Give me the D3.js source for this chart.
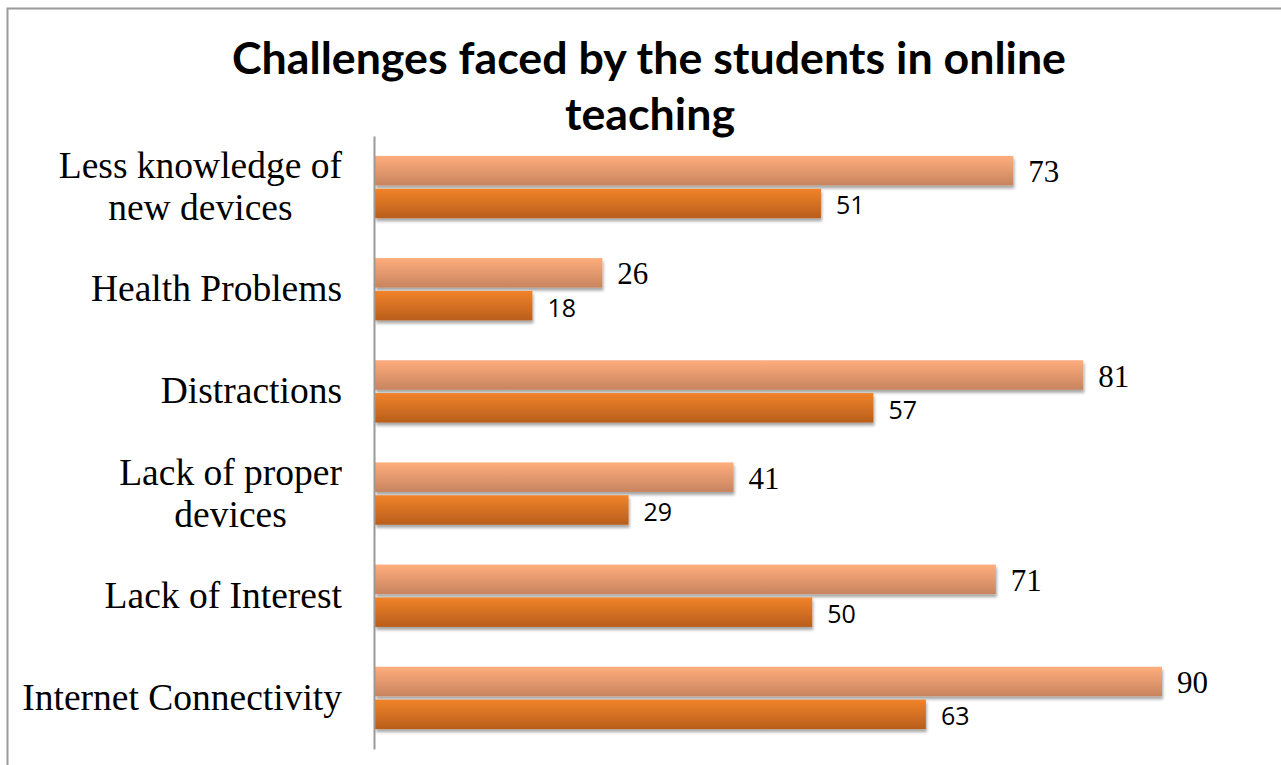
<!DOCTYPE html>
<html>
<head>
<meta charset="utf-8">
<script src="https://cdn.jsdelivr.net/npm/d3@7"></script>
<style>
  html, body { margin: 0; padding: 0; background: #fff; }
  svg { display: block; }
</style>
</head>
<body>
<svg id="chart" width="1281" height="765"></svg>
<script>
"use strict";

// Data
const CATEGORIES = [
  ["Less knowledge of", "new devices"],
  ["Health Problems"],
  ["Distractions"],
  ["Lack of proper", "devices"],
  ["Lack of Interest"],
  ["Internet Connectivity"]
];
const SERIES_A = [73, 26, 81, 41, 71, 90]; // light bars
const SERIES_B = [51, 18, 57, 29, 50, 63]; // dark bars
const TITLE_LINES = ["Challenges faced by the students in online", "teaching"];

// Dimensions
const W = 1281;
const H = 765;
const PLOT_LEFT = 375;
const PLOT_TOP = 136;
const PLOT_BOTTOM = 749;
const X_END = 1162; // where 90 lands

const svg = d3.select("#chart");
const defs = svg.append("defs");

// Gradients
function gradient(id, top, bottom) {
  const g = defs.append("linearGradient")
    .attr("id", id)
    .attr("x1", 0).attr("y1", 0).attr("x2", 0).attr("y2", 1);
  g.append("stop").attr("offset", "0%").attr("stop-color", top);
  g.append("stop").attr("offset", "100%").attr("stop-color", bottom);
}
gradient("grad-a", "#ffad7c", "#c7845f");
gradient("grad-b", "#f1832a", "#b85e1c");

// Shadow
const shadow = defs.append("filter").attr("id", "shadow")
  .attr("x", "-5%").attr("y", "-20%").attr("width", "110%").attr("height", "160%");
shadow.append("feDropShadow")
  .attr("dx", 1).attr("dy", 3).attr("stdDeviation", 1.8)
  .attr("flood-color", "#000").attr("flood-opacity", 0.35);

// Frame lines (top and left)
svg.append("path")
  .attr("d", "M7.5," + H + "V8.5H" + W)
  .attr("fill", "none")
  .attr("stroke", "#9a9a9a")
  .attr("stroke-width", 2);

// Scales
const idx = d3.range(CATEGORIES.length);
const x = d3.scaleLinear().domain([0, 90]).range([PLOT_LEFT, X_END]);
const y = d3.scaleBand().domain(idx)
  .range([PLOT_TOP, PLOT_BOTTOM])
  .paddingInner(0.39).paddingOuter(0.195);
const ySub = d3.scaleBand().domain([0, 1])
  .range([0, y.bandwidth()])
  .paddingInner(0.1);

// Bars
const groups = svg.append("g").selectAll("g")
  .data(idx)
  .join("g")
  .attr("transform", i => "translate(0," + y(i) + ")");

const seriesList = [
  { values: SERIES_A, fill: "url(#grad-a)" },
  { values: SERIES_B, fill: "url(#grad-b)" }
];

seriesList.forEach(function(s, k) {
  groups.append("rect")
    .attr("x", x(0))
    .attr("y", ySub(k))
    .attr("width", i => x(s.values[i]) - x(0))
    .attr("height", ySub.bandwidth())
    .attr("fill", s.fill)
    .attr("filter", "url(#shadow)");
});

// Value labels
groups.append("text")
  .attr("x", i => x(SERIES_A[i]) + 15)
  .attr("y", ySub(0) + ySub.bandwidth() / 2 + 11.5)
  .attr("font-family", "'Liberation Serif', 'Times New Roman', serif")
  .attr("font-size", 31)
  .attr("fill", "#000")
  .text(i => SERIES_A[i]);

groups.append("text")
  .attr("x", i => x(SERIES_B[i]) + 15)
  .attr("y", ySub(1) + ySub.bandwidth() / 2 + 11)
  .attr("font-family", "'Open Sans', 'Noto Sans', sans-serif")
  .attr("font-size", 25)
  .attr("fill", "#000")
  .text(i => SERIES_B[i]);

// Vertical axis line
const axis = svg.append("g")
  .attr("transform", "translate(" + (PLOT_LEFT - 1) + ",0)")
  .call(d3.axisLeft(y).tickSize(0).tickSizeOuter(0).tickFormat(""));
axis.select(".domain").attr("stroke", "#9a9a9a").attr("stroke-width", 2);

// Category labels, block right-aligned, lines centred
const LABEL_RIGHT = 342;
const LINE_H = 42;
const labels = svg.append("g")
  .attr("font-family", "'Liberation Serif', 'Times New Roman', serif")
  .attr("font-size", 37.5)
  .attr("fill", "#000");

idx.forEach(function(i) {
  const lines = CATEGORIES[i];
  const t = labels.append("text").attr("text-anchor", "middle");
  const spans = lines.map(function(line, j) {
    return t.append("tspan")
      .attr("y", y(i) + y.bandwidth() / 2 + 12 + (j - (lines.length - 1) / 2) * LINE_H)
      .text(line);
  });
  let widest = 0;
  spans.forEach(function(s) {
    widest = Math.max(widest, s.node().getComputedTextLength());
  });
  spans.forEach(function(s) { s.attr("x", LABEL_RIGHT - widest / 2); });
});

// Title
const title = svg.append("text")
  .attr("text-anchor", "middle")
  .attr("font-family", "Lato, 'Open Sans', sans-serif")
  .attr("font-weight", "bold")
  .attr("font-size", 43)
  .attr("fill", "#000");
title.append("tspan").attr("x", 649).attr("y", 74)
  .attr("textLength", 834).attr("lengthAdjust", "spacingAndGlyphs")
  .text(TITLE_LINES[0]);
title.append("tspan").attr("x", 650).attr("y", 130)
  .attr("textLength", 170).attr("lengthAdjust", "spacingAndGlyphs")
  .text(TITLE_LINES[1]);
</script>
</body>
</html>
